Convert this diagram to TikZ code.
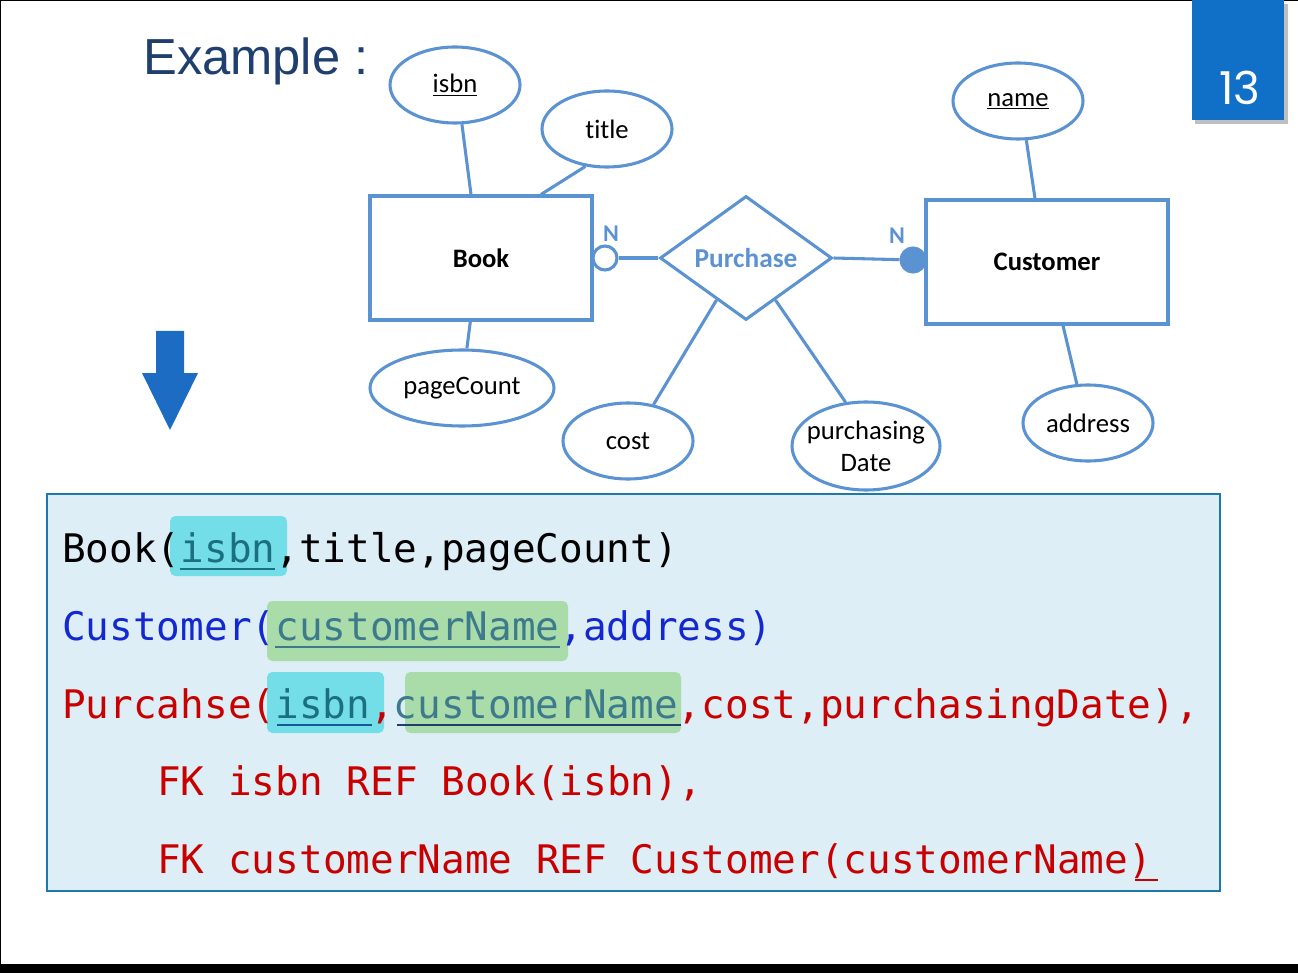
\documentclass[tikz,border=0pt]{standalone}
\usepackage{fontspec}
\setmainfont[Ligatures=CommonOff]{Carlito}
\newfontfamily\codefont{DejaVu Sans Mono}
\newfontfamily\titlefont{Liberation Sans}
\newfontfamily\numfont{Poppins}
\usetikzlibrary{shapes.geometric}

\definecolor{erblue}{RGB}{91,146,210}
\definecolor{navy}{RGB}{31,63,110}
\definecolor{pageblue}{RGB}{16,112,200}
\definecolor{boxfill}{RGB}{221,238,247}
\definecolor{boxline}{RGB}{30,120,170}
\definecolor{hlcyan}{RGB}{116,222,232}
\definecolor{hlgreen}{RGB}{170,220,170}
\definecolor{codeblue}{RGB}{20,40,210}
\definecolor{codered}{RGB}{200,0,0}
\definecolor{keytxt}{RGB}{27,111,128}
\definecolor{fktxt}{RGB}{61,123,140}
\definecolor{arrowblue}{RGB}{28,108,196}

\newcommand{\codesize}{\codefont\fontsize{29.5}{30}\selectfont}

\begin{document}
\begin{tikzpicture}[x=0.75pt,y=0.75pt,yscale=-1,xscale=1,
  erline/.style={draw=erblue,line width=2.3pt},
  attr/.style={ellipse,draw=erblue,line width=2.3pt,fill=white,inner sep=0pt,minimum width=97.5pt,minimum height=57pt,font=\fontsize{20}{22}\selectfont},
  entity/.style={rectangle,draw=erblue,line width=2.3pt,inner sep=0pt,minimum height=93pt,font=\bfseries\fontsize{20}{22}\selectfont},
  relation/.style={diamond,draw=erblue,line width=2.3pt,inner sep=0pt,aspect=1.39,minimum width=129pt,minimum height=93pt,text=erblue,font=\bfseries\fontsize{20.5}{22}\selectfont},
  card/.style={text=erblue,font=\bfseries\fontsize{18}{18}\selectfont,inner sep=0pt},
  codeline/.style={anchor=base west,inner sep=0pt,font=\codesize},
  hlbox/.style={rounded corners=4pt},
  keyline/.style={line width=2.2pt}]
\useasboundingbox (0,0) rectangle (1298,973);

% frame
\draw[black,line width=0.75pt] (0.5,973) -- (0.5,0.5) -- (1298,0.5);
\fill[black] (0,964) rectangle (1298,973);

% page number
\fill[black!25] (1195,4) rectangle (1288,124);
\fill[pageblue] (1192,0) rectangle (1284,120);
\draw (1240,105) node [anchor=base,inner sep=0pt,text=white,font=\numfont\fontsize{34}{34}\selectfont] (pagenum) {13};

% title
\draw (143,75) node [anchor=base west,inner sep=0pt,text=navy,font=\titlefont\fontsize{38}{38}\selectfont] (title) {Example :};

% down arrow
\fill[arrowblue] (156,331) -- (184,331) -- (184,373) -- (198,373) -- (170,430) -- (142,373) -- (156,373) -- cycle;

% entities and relation
\node[entity,minimum width=166.5pt] (book) at (481,258) {Book};
\node[entity,minimum width=181.5pt] (customer) at (1047,262) {Customer};
\node[relation] (purchase) at (746,258) {Purchase};

% attributes
\node[attr] (isbn) at (455,85) {\underline{isbn}};
\node[attr] (booktitle) at (607,129) {title};
\node[attr,minimum width=138pt] (pagecount) at (462,388) {pageCount};
\node[attr] (cost) at (628,441) {cost};
\node[attr,minimum width=111pt,minimum height=66pt,inner xsep=-7pt,inner ysep=-5pt,align=center] (pdate) at (866,446) {purchasing\\[2pt]Date};
\node[attr] (cname) at (1018,101) {\underline{name}};
\node[attr] (address) at (1088,423) {address};

% cardinality
\node[circle,draw=erblue,line width=2.3pt,fill=white,inner sep=0pt,minimum size=18pt] (nbook) at (605,258) {};
\node[circle,draw=erblue,line width=2.3pt,fill=erblue,inner sep=0pt,minimum size=18pt] (ncust) at (913,260) {};
\node[card] (nlabelA) at (611,234) {N};
\node[card] (nlabelB) at (897,236) {N};

% connectors
\draw[erline] (isbn.-80) -- ([xshift=-7.5pt]book.north);
\draw[erline] (booktitle.-120) -- ([xshift=45pt]book.north);
\draw[erline] ([xshift=-8pt]book.south) -- (pagecount.83);
\draw[erline] (cname.-78) -- ([xshift=-9pt]customer.north);
\draw[erline] ([xshift=12pt]customer.south) -- (address.106);
\draw[erline] (purchase.-125) -- (cost.55);
\draw[erline] (purchase.-55) -- (pdate.115);
\draw[erline] (nbook) -- (purchase.west);
\draw[erline] (purchase.east) -- (ncust);

% relational schema box
\draw[fill=boxfill,draw=boxline,line width=1.5pt] (47,494) rectangle (1220,891);

% highlights
\fill[hlcyan,hlbox] (170,516) rectangle (287,576);
\fill[hlgreen,hlbox] (267,601) rectangle (568,661);
\fill[hlcyan,hlbox] (267,672) rectangle (384,733);
\fill[hlgreen,hlbox] (405,672) rectangle (681,733);

% schema lines
\node[codeline] (schemaA) at (62,562) {Book(\textcolor{keytxt}{isbn},title,pageCount)};
\node[codeline,text=codeblue] (schemaB) at (62,640) {Customer(\textcolor{fktxt}{customerName},address)};
\node[codeline,text=codered] (schemaC) at (62,718) {Purcahse(\textcolor{keytxt}{isbn},\textcolor{fktxt}{customerName},cost,purchasingDate),};
\node[codeline,text=codered] (schemaD) at (157,795) {FK isbn REF Book(isbn),};
\node[codeline,text=codered] (schemaE) at (157,873) {FK customerName REF Customer(customerName)};

% key underlines
\draw[keyline,draw=keytxt] (180,569) -- (275,569);
\draw[keyline,draw=fktxt] (275,647) -- (560,647);
\draw[keyline,draw=keytxt!80!blue] (277,725) -- (372,725);
\draw[keyline,draw=navy] (397,725) -- (681,725);
\draw[keyline,draw=codered] (1135,880) -- (1158,880);

\end{tikzpicture}
\end{document}
